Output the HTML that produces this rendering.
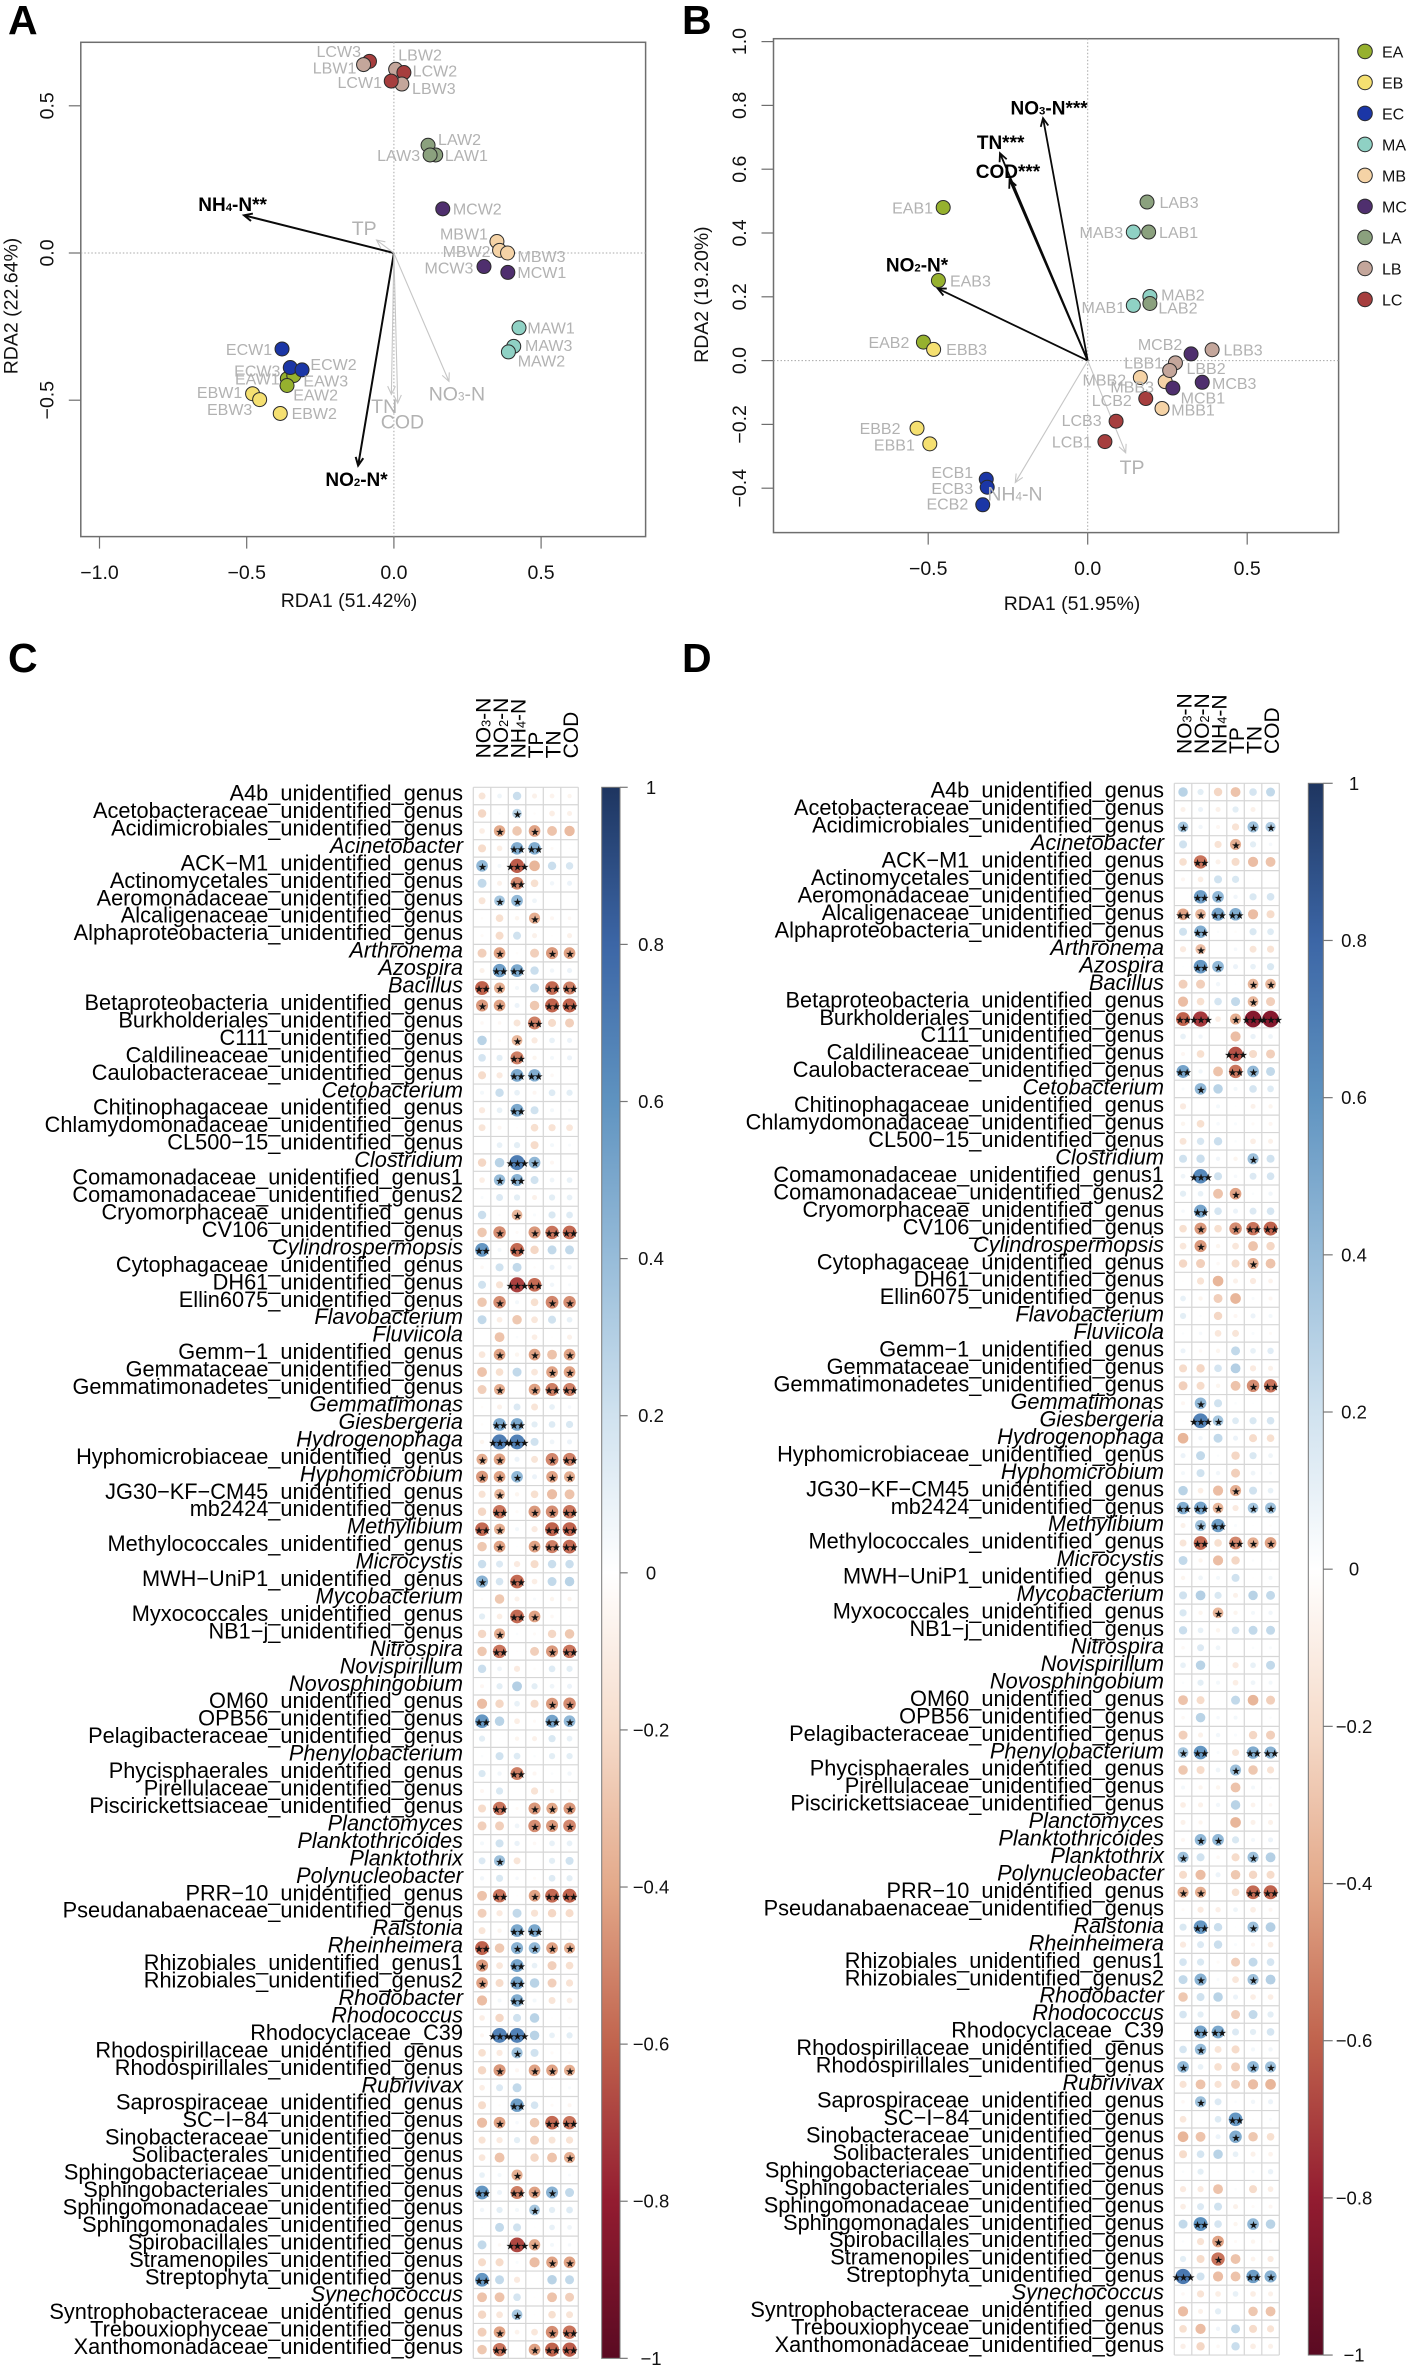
<!DOCTYPE html>
<html lang="en">
<head>
<meta charset="utf-8">
<title>RDA ordination and correlation heatmaps</title>
<style>
html,body{margin:0;padding:0;background:#fff;}
#figure{display:block;font-family:"Liberation Sans",Arial,sans-serif;}
</style>
</head>
<body>
<svg id="figure" xmlns="http://www.w3.org/2000/svg" width="1411" height="2368" viewBox="0 0 1411 2368">
<rect width="1411" height="2368" fill="#fff"/>
<defs>
<linearGradient id="cbar" x1="0" y1="0" x2="0" y2="1"></linearGradient>
</defs>
<text x="8" y="34" font-size="41" font-weight="bold">A</text>
<text x="682" y="34" font-size="41" font-weight="bold">B</text>
<text x="8" y="672" font-size="41" font-weight="bold">C</text>
<text x="682" y="672" font-size="41" font-weight="bold">D</text>
<g id="layer"></g>
</svg>
<script>
/* ---------- Panel A data ---------- */
const sampleNamesA = ["LCW3","LBW1","LBW2","LCW2","LBW3","LCW1","LAW2","LAW1","LAW3","MCW2","MBW1","MBW2","MBW3","MCW3","MCW1","MAW1","MAW3","MAW2","ECW1","EAW1","EAW3","EAW2","ECW3","ECW2","EBW1","EBW3","EBW2"];
const sampleXA = [-.083,-.103,.006,.034,.027,-.009,.116,.142,.123,.166,.350,.359,.386,.306,.387,.425,.407,.389,-.380,-.362,-.34,-.363,-.352,-.312,-.48,-.456,-.386];
const sampleYA = [.651,.640,.624,.613,.574,.584,.366,.333,.333,.150,.039,.009,0,-.046,-.066,-.254,-.317,-.336,-.326,-.427,-.416,-.45,-.389,-.397,-.478,-.498,-.545];
const labelDxA = [-30.7,-29,24.4,31,32,-31.5,31.5,30.7,-31.5,34.5,-33,-33,34,-35,34,32,35,33,-33,-30,32,28.6,-33,31.5,-33,-30,34];
const labelDyA = [-10,3,-14.6,-2,4,1,-6,0,0,0,-8,1,3,1,0,0,-1,9,0,0,5,9,3,-5.5,-1.6,9.5,0];
const arrowNamesA = ["NH4-N**","NO2-N*","TP","TN","COD","NO3-N"];
const arrowXA = [-.509,-.1215,-.059,-.0086,.013,.187];
const arrowYA = [.128,-.722,.044,-.48,-.51,-.436];
const arrowLabelXA = [-.548,-.127,-.101,-.033,.029,.214];
const arrowLabelYA = [.166,-.767,.085,-.52,-.573,-.478];
const xTicksA = [-1,-.5,0,.5];
const yTicksA = [.5,0,-.5];

/* ---------- Panel B data ---------- */
const sampleNamesB = ["EAB1","EAB3","EAB2","EBB3","EBB2","EBB1","ECB1","ECB3","ECB2","LAB3","MAB3","LAB1","MAB2","LAB2","MAB1","MBB2","MBB3","MCB2","LBB3","LBB2","LBB1","MCB3","MCB1","LCB2","MBB1","LCB3","LCB1"];
const sampleXB = [-.453,-.468,-.515,-.483,-.535,-.495,-.318,-.315,-.329,.186,.143,.191,.195,.195,.143,.165,.243,.324,.39,.275,.257,.359,.267,.182,.233,.089,.054];
const sampleYB = [.480,.251,.058,.035,-.212,-.261,-.372,-.397,-.452,.497,.403,.403,.201,.179,.173,-.053,-.066,.021,.034,-.007,-.031,-.068,-.086,-.119,-.150,-.19,-.254];
const labelDxB = [-30.6,32,-34.5,33,-37,-35.4,-34,-35,-35.4,32,-32,30,33,28,-30,-36,-33,-31,31,30.6,-26,32,30,-34,31,-34.5,-33];
const labelDyB = [0,0,0,0,0,1,-7,1,-1,0,0,0,-1.6,4,1.6,2,5,-9.5,0,5.5,-8,1,9.5,1.5,1,-1,0];
const arrowNamesB = ["NO3-N***","TN***","COD***","NO2-N*","TP","NH4-N"];
const arrowXB = [-.14,-.275,-.245,-.47,.119,-.227];
const arrowYB = [.76,.65,.567,.226,-.289,-.382];
const arrowLabelXB = [-.121,-.273,-.25,-.535,.139,-.228];
const arrowLabelYB = [.793,.686,.595,.302,-.333,-.416];
const xTicksB = [-.5,0,.5];
const yTicksB = [1,.8,.6,.4,.2,0,-.2,-.4];

/* ---------- Legend ---------- */
const legendGroups = ["EA","EB","EC","MA","MB","MC","LA","LB","LC"];
const legendColors = ["#96b12e","#f5e071","#1b36a6","#8fd1c4","#f5d3a6","#4f2f6e","#8ba17e","#c4a69b","#a63e3e"];

/* ---------- Heatmap categories ---------- */
const envFactors = ["NO3-N","NO2-N","NH4-N","TP","TN","COD"];
const taxa = ["A4b_unidentified_genus","Acetobacteraceae_unidentified_genus","Acidimicrobiales_unidentified_genus","Acinetobacter","ACK−M1_unidentified_genus","Actinomycetales_unidentified_genus","Aeromonadaceae_unidentified_genus","Alcaligenaceae_unidentified_genus","Alphaproteobacteria_unidentified_genus","Arthronema","Azospira","Bacillus","Betaproteobacteria_unidentified_genus","Burkholderiales_unidentified_genus","C111_unidentified_genus","Caldilineaceae_unidentified_genus","Caulobacteraceae_unidentified_genus","Cetobacterium","Chitinophagaceae_unidentified_genus","Chlamydomonadaceae_unidentified_genus","CL500−15_unidentified_genus","Clostridium","Comamonadaceae_unidentified_genus1","Comamonadaceae_unidentified_genus2","Cryomorphaceae_unidentified_genus","CV106_unidentified_genus","Cylindrospermopsis","Cytophagaceae_unidentified_genus","DH61_unidentified_genus","Ellin6075_unidentified_genus","Flavobacterium","Fluviicola","Gemm−1_unidentified_genus","Gemmataceae_unidentified_genus","Gemmatimonadetes_unidentified_genus","Gemmatimonas","Giesbergeria","Hydrogenophaga","Hyphomicrobiaceae_unidentified_genus","Hyphomicrobium","JG30−KF−CM45_unidentified_genus","mb2424_unidentified_genus","Methylibium","Methylococcales_unidentified_genus","Microcystis","MWH−UniP1_unidentified_genus","Mycobacterium","Myxococcales_unidentified_genus","NB1−j_unidentified_genus","Nitrospira","Novispirillum","Novosphingobium","OM60_unidentified_genus","OPB56_unidentified_genus","Pelagibacteraceae_unidentified_genus","Phenylobacterium","Phycisphaerales_unidentified_genus","Pirellulaceae_unidentified_genus","Piscirickettsiaceae_unidentified_genus","Planctomyces","Planktothricoides","Planktothrix","Polynucleobacter","PRR−10_unidentified_genus","Pseudanabaenaceae_unidentified_genus","Ralstonia","Rheinheimera","Rhizobiales_unidentified_genus1","Rhizobiales_unidentified_genus2","Rhodobacter","Rhodococcus","Rhodocyclaceae_C39","Rhodospirillaceae_unidentified_genus","Rhodospirillales_unidentified_genus","Rubrivivax","Saprospiraceae_unidentified_genus","SC−I−84_unidentified_genus","Sinobacteraceae_unidentified_genus","Solibacterales_unidentified_genus","Sphingobacteriaceae_unidentified_genus","Sphingobacteriales_unidentified_genus","Sphingomonadaceae_unidentified_genus","Sphingomonadales_unidentified_genus","Spirobacillales_unidentified_genus","Stramenopiles_unidentified_genus","Streptophyta_unidentified_genus","Synechococcus","Syntrophobacteraceae_unidentified_genus","Trebouxiophyceae_unidentified_genus","Xanthomonadaceae_unidentified_genus"];
const colorbarTicks = [1,.8,.6,.4,.2,0,-.2,-.4,-.6,-.8,-1];

/* ---------- Heatmap C values ---------- */
const valuesC = [
[-.15,.07,.22,-.08,-.07,-.06],[-.22,.02,.28,-.02,-.1,-.08],[-.1,-.4,-.28,-.42,-.3,-.33],[-.2,-.1,.48,.48,-.03,-.01],[.42,.05,-.62,-.35,.22,.17],
[.25,-.08,-.5,-.18,.06,.08],[-.15,.35,.42,.07,0,0],[-.02,-.18,-.06,-.38,-.05,-.04],[-.03,-.2,.2,-.08,-.01,-.08],[-.25,-.42,-.02,-.25,-.45,-.42],
[-.08,.55,.5,.22,.06,.08],[-.6,-.38,.05,.25,-.58,-.52],[-.45,-.42,.08,-.28,-.6,-.6],[-.04,-.04,-.15,-.52,-.2,-.25],[.28,-.03,-.35,-.12,.1,.08],
[.18,.12,-.52,-.06,.05,.08],[-.2,-.12,.5,.48,-.04,-.01],[.05,.22,.1,-.05,.14,.12],[-.12,.1,.5,.2,.05,.03],[-.15,-.05,-.01,-.18,-.16,-.14],
[0,.1,.12,-.2,.05,.03],[-.22,.28,.7,.42,-.05,0],[-.1,.4,.45,.2,.07,.1],[.03,.15,.12,-.08,.12,.1],[.22,.02,-.35,.03,.16,.14],
[-.28,-.48,-.03,-.45,-.55,-.58],[.58,.05,-.58,-.22,.25,.25],[-.04,.2,.25,-.02,.08,.06],[.2,-.16,-.7,-.58,.06,.03],[-.28,-.48,.05,-.18,-.5,-.48],
[.25,-.1,-.28,-.14,.2,.1],[0,-.3,.02,-.1,-.01,-.08],[-.14,-.42,-.06,-.42,-.3,-.42],[-.3,-.18,.25,-.14,-.42,-.42],[-.25,-.38,0,-.42,-.52,-.52],
[-.02,-.08,.15,-.15,.1,.04],[-.02,.5,.5,.12,.14,.16],[-.06,.7,.68,.2,.07,.08],[-.38,-.42,.08,-.15,-.5,-.52],[-.45,-.42,.42,.08,-.42,-.38],
[-.16,-.35,-.06,-.18,-.32,-.3],[-.22,-.55,-.03,-.45,-.48,-.55],[-.58,-.38,.05,-.12,-.6,-.6],[-.28,-.42,.01,-.42,-.52,-.58],[.22,.15,-.12,-.2,.22,.22],
[.45,.18,-.58,-.1,.25,.28],[-.02,-.28,-.08,.03,-.06,-.06],[.12,-.1,-.58,-.42,-.04,-.01],[-.22,-.38,.02,-.03,-.22,-.28],[-.28,-.55,-.01,-.25,-.45,-.55],
[.22,.07,-.12,-.02,.14,.12],[-.05,.12,.3,.12,.07,.08],[-.32,-.22,.1,-.2,-.45,-.48],[.58,.28,-.1,-.03,.52,.42],[.12,.01,-.06,-.08,.16,.1],
[.02,.2,.14,.02,.12,.12],[.16,.06,-.52,-.05,.02,.06],[-.05,.16,0,-.16,-.06,-.03],[-.2,-.55,-.03,-.45,-.4,-.45],[-.25,-.25,.07,-.48,-.45,-.5],
[.05,.2,.09,-.04,.1,.1],[.15,.38,-.15,0,.12,.2],[.06,.16,.04,-.03,.14,.12],[-.3,-.55,-.01,-.42,-.58,-.6],[-.25,-.12,.25,-.16,-.22,-.2],
[-.15,-.06,.5,.5,-.01,.02],[-.6,-.28,.45,.42,-.42,-.38],[-.45,-.14,.52,.1,-.25,-.18],[-.42,-.2,.52,.28,-.25,-.16],[-.32,.05,.48,.05,-.15,-.1],
[-.1,-.22,.2,.28,-.01,-.02],[-.05,.68,.68,.28,.1,.12],[-.18,-.12,.38,.2,-.03,-.02],[-.22,-.45,-.05,-.42,-.42,-.38],[-.1,.15,.25,0,-.01,.03],
[-.2,-.02,.55,.18,-.03,-.05],[-.32,-.42,.04,-.28,-.58,-.55],[-.16,-.12,.12,-.25,-.15,-.16],[-.14,-.3,0,-.22,-.3,-.38],[.1,.05,-.38,0,0,.03],
[.58,.08,-.52,-.42,.45,.25],[.06,.12,.05,.35,.12,.14],[.01,.25,.2,.01,.1,.07],[.25,-.04,-.68,-.4,.05,.04],[-.2,-.2,.03,-.32,-.42,-.42],
[.58,.25,-.12,0,.28,.25],[-.3,-.3,.18,-.01,-.3,-.25],[-.22,-.14,.35,-.01,-.18,-.15],[-.25,-.42,-.07,-.14,-.48,-.55],[-.28,-.55,0,-.42,-.6,-.62]
];
const starsC = ["000000","001000","010100","002200","103000","002000","011000","000100","000000","010011","022000","210022","110022","000200","001000","002000","002200","000000","002000","000000","000000","003100","012000","000000","001000","010122","202000","000000","003200","010011","000000","000000","010101","000011","010122","000000","022000","033000","110012","111011","010000","020112","210022","010122","000000","102000","000000","002100","010000","020012","000000","000000","000011","200021","000000","000000","002000","000000","020111","000111","000000","010000","000000","020122","000000","002200","201111","102000","102000","002000","000000","033000","001000","010111","000000","002000","010022","000000","000001","001000","202110","000100","000000","003100","000011","200000","000000","001000","010012","020122"];

/* ---------- Heatmap D values ---------- */
const valuesD = [
[.28,.12,-.22,-.3,.18,.25],[-.08,.08,-.08,.12,-.08,.01],[.35,.06,-.05,-.16,.38,.32],[.2,.01,-.16,-.38,.12,.04],[-.18,-.55,-.08,-.2,-.32,-.3],
[-.05,-.1,.2,.16,.01,0],[0,.55,.42,.06,.16,.18],[-.42,-.35,.52,.48,-.32,-.2],[.2,.48,.02,-.02,.16,.14],[-.12,-.32,0,.04,-.15,-.16],
[.01,.58,.42,.08,.1,.16],[-.25,-.25,.06,.01,-.35,-.35],[-.32,-.18,.18,.25,-.35,-.25],[-.6,-.72,-.1,-.38,-.85,-.85],[.1,.06,0,-.32,.09,.07],
[-.05,-.18,0,-.65,-.2,-.25],[.52,.06,-.3,-.55,.42,.25],[.03,.42,.28,.05,.18,.14],[-.12,0,.05,.01,-.08,-.06],[-.06,-.18,.04,.03,-.03,-.05],
[-.15,.17,.22,.02,-.1,-.08],[.2,.22,.06,-.06,.38,.2],[.07,.65,.2,.04,.15,.18],[.12,.1,-.3,-.42,.02,.06],[.04,.52,.18,.08,.15,.18],
[-.18,-.45,-.18,-.48,-.55,-.6],[-.14,-.45,-.06,-.14,-.3,-.22],[-.22,-.25,-.04,-.2,-.38,-.3],[-.01,-.16,-.35,-.08,-.12,-.07],[.1,-.06,-.25,-.35,.03,-.05],
[.12,.02,-.22,-.05,.08,.05],[.02,.04,-.14,-.15,.03,-.03],[.08,-.04,-.06,.25,.1,.13],[-.2,-.22,.18,.3,-.12,-.08],[-.25,-.2,-.06,-.3,-.48,-.55],
[-.05,.42,.2,.02,.01,0],[-.01,.68,.35,.14,.16,.18],[-.35,.06,.25,.08,-.2,-.18],[.08,.25,.02,-.22,.16,.07],[.05,.2,.06,-.25,.07,.03],
[.28,-.1,-.32,-.38,.2,.1],[.48,.52,-.35,-.12,.35,.38],[-.08,.38,.55,.03,.01,-.02],[-.15,-.58,-.18,-.5,-.38,-.42],[.25,-.06,-.32,-.22,.02,.02],
[-.06,.07,.05,.2,-.01,.05],[.2,.3,.16,-.08,.28,.25],[.16,-.06,-.35,-.06,.05,.06],[.22,.1,-.06,.18,.25,.25],[-.04,.15,.07,0,.02,.03],
[.1,.28,.01,-.12,.1,.25],[.02,.12,.05,-.1,.07,.05],[-.3,-.2,-.01,.25,-.35,-.25],[-.04,.28,.04,.05,0,.02],[-.25,-.08,.06,.03,-.22,-.25],
[.35,.58,.03,-.15,.48,.45],[-.28,-.2,.07,.38,-.28,-.16],[.05,-.06,-.06,-.3,.05,.02],[-.1,-.08,.06,.28,-.07,-.04],[-.08,-.06,0,-.35,-.08,-.08],
[-.05,.42,.42,.16,.05,.08],[.38,.2,-.04,-.2,.38,.3],[-.2,-.32,.08,-.28,-.22,-.2],[-.38,-.38,-.01,-.18,-.58,-.6],[-.03,-.12,-.09,.07,-.1,-.05],
[.16,.58,.22,.01,.38,.3],[-.12,.15,.22,.03,-.05,-.1],[.18,.16,-.03,-.25,.25,.18],[.25,.45,.03,-.14,.38,.3],[-.28,.2,.28,.08,-.1,-.1],
[.18,.12,0,-.25,.25,.12],[0,.52,.5,.15,.12,.18],[.18,.4,-.15,-.2,.05,.06],[.42,.1,-.18,-.25,.42,.38],[-.16,-.3,-.16,-.25,-.32,-.35],
[-.04,.38,.15,.02,.06,.08],[-.14,0,.14,.58,.01,.03],[-.35,-.3,.08,.48,-.28,-.18],[-.2,.18,.28,.1,-.08,-.07],[.02,.12,-.01,.01,.03,.09],
[-.12,-.12,-.3,.02,-.2,-.1],[-.1,.15,.2,-.08,-.03,-.05],[.25,.6,.18,-.06,.42,.28],[.02,-.16,-.42,-.03,-.06,-.03],[.12,-.2,-.55,-.3,-.07,-.12],
[.72,.2,-.32,-.3,.55,.45],[-.04,-.16,-.1,.1,-.1,-.08],[-.32,-.08,.12,0,-.28,-.3],[-.18,-.32,.06,.25,-.2,-.16],[-.09,-.22,-.04,.22,-.1,-.08]
];
const starsD = ["000000","000000","100011","000100","020000","000000","021000","212200","020000","010000","021000","000011","000010","230133","000000","000300","200210","010000","000000","000000","000000","000010","030000","000100","020000","010122","010000","000010","000000","000000","000000","000000","000000","000000","000012","010000","031000","000000","000000","000000","000100","221011","012000","020211","000000","000000","000000","001000","000000","000000","000000","000000","000000","000000","000000","120022","000100","000000","000000","000000","011000","100010","000000","110022","000000","020010","000000","000000","010010","000000","000000","022000","010000","100011","000000","010000","000200","000100","000000","000000","000000","000000","020010","001000","001000","300021","000000","000000","000000","000000"];

/* ---------- Helpers ---------- */
const NS = "http://www.w3.org/2000/svg";
const layer = document.getElementById("layer");
function make(parent, tag, attrs, text) {
  const el = document.createElementNS(NS, tag);
  for (const k in attrs) el.setAttribute(k, attrs[k]);
  if (text !== undefined) el.textContent = text;
  parent.appendChild(el);
  return el;
}
function group(name) {
  const g = document.createElementNS(NS, "g");
  
  
  layer.appendChild(g);
  return g;
}
function fmtTick(v, d) {
  const s = Math.abs(v).toFixed(d);
  return (v < 0 ? "\u2212" : "") + s;
}
function richText(el, label, size) {
  const m = label.match(/^([A-Z]+)(\d)(.*)$/);
  if (!m) { el.textContent = label; return; }
  el.appendChild(document.createTextNode(m[1]));
  const t = document.createElementNS(NS, "tspan");
  t.setAttribute("font-size", size * 0.6);
  t.textContent = m[2];
  el.appendChild(t);
  el.appendChild(document.createTextNode(m[3]));
}
const groupColor = {};
legendGroups.forEach((g, i) => { groupColor[g] = legendColors[i]; });

/* ---------- RDA panels ---------- */
function drawRDA(cfg) {
  const g = group(cfg.id + "-rda-plot");
  const sx = v => cfg.x0 + v * cfg.scale;
  const sy = v => cfg.y0 - v * cfg.scale;

  const box = make(g, "rect", {x: cfg.left, y: cfg.top, width: cfg.right - cfg.left, height: cfg.bottom - cfg.top, fill: "none", stroke: "#6e6e6e", "stroke-width": 1.5});
  
  

  const zx = make(g, "line", {x1: cfg.x0, x2: cfg.x0, y1: cfg.top, y2: cfg.bottom, stroke: "#a8a8a8", "stroke-width": 1, "stroke-dasharray": "1.5 2"});
  
  
  const zy = make(g, "line", {x1: cfg.left, x2: cfg.right, y1: cfg.y0, y2: cfg.y0, stroke: "#a8a8a8", "stroke-width": 1, "stroke-dasharray": "1.5 2"});
  
  

  cfg.xTicks.forEach(v => {
    const t = make(g, "line", {x1: sx(v), x2: sx(v), y1: cfg.bottom, y2: cfg.bottom + 12, stroke: "#6e6e6e", "stroke-width": 1.2});
    
    
    const l = make(g, "text", {x: sx(v), y: cfg.xTickY, "text-anchor": "middle", "font-size": 19.5, fill: "#111"}, fmtTick(v, 1));
    
    
  });
  cfg.yTicks.forEach(v => {
    const t = make(g, "line", {x1: cfg.left - 12, x2: cfg.left, y1: sy(v), y2: sy(v), stroke: "#6e6e6e", "stroke-width": 1.2});
    
    
    const l = make(g, "text", {transform: `translate(${cfg.yTickX},${sy(v)}) rotate(-90)`, "text-anchor": "middle", "font-size": 19.5, fill: "#111"}, fmtTick(v, 1));
    
    
  });

  const xt = make(g, "text", {x: cfg.xTitleX, y: cfg.xTitleY, "text-anchor": "middle", "font-size": 19.5, fill: "#111"}, cfg.xTitle);
  
  
  const yt = make(g, "text", {transform: `translate(${cfg.yTitleX},${cfg.yTitleY}) rotate(-90)`, "text-anchor": "middle", "font-size": 19.5, fill: "#111"}, cfg.yTitle);
  
  

  /* arrows */
  cfg.arrowNames.forEach((name, i) => {
    const strong = name.includes("*");
    const col = strong ? "#0a0a0a" : "#c6c6c6";
    const w = strong ? cfg.arrowWidth : 1.1;
    const x2 = sx(cfg.arrowX[i]), y2 = sy(cfg.arrowY[i]);
    const a = Math.atan2(y2 - cfg.y0, x2 - cfg.x0);
    const h = 9;
    const p = [a + 2.7, a - 2.7].map(t => [x2 + h * Math.cos(t), y2 + h * Math.sin(t)]);
    const ar = make(g, "path", {d: `M${cfg.x0} ${cfg.y0}L${x2} ${y2}M${p[0][0]} ${p[0][1]}L${x2} ${y2}L${p[1][0]} ${p[1][1]}`, fill: "none", stroke: col, "stroke-width": w});
    
    
  });

  /* sample points */
  cfg.names.forEach((name, i) => {
    const gr = name.slice(0, 2);
    const px = sx(cfg.xs[i]), py = sy(cfg.ys[i]);
    const c = make(g, "circle", {cx: px, cy: py, r: 7, fill: groupColor[gr], stroke: "#2a2a2a", "stroke-width": 1});
    
    
  });
  cfg.names.forEach((name, i) => {
    const px = sx(cfg.xs[i]), py = sy(cfg.ys[i]);
    const l = make(g, "text", {x: px + cfg.dx[i], y: py + cfg.dy[i] + 5.8, "text-anchor": "middle", "font-size": 16, fill: "#b2b2b2"}, name);
    
    
  });

  /* arrow labels */
  cfg.arrowNames.forEach((name, i) => {
    const strong = name.includes("*");
    const size = strong ? 19 : 19.5;
    const l = make(g, "text", {x: sx(cfg.labelX[i]), y: sy(cfg.labelY[i]) + 7, "text-anchor": "middle", "font-size": size, "font-weight": strong ? "bold" : "normal", fill: strong ? "#000" : "#b2b2b2"});
    richText(l, name, size);
    
    
  });
}

drawRDA({id: "a", left: 80.8, right: 645.6, top: 42.3, bottom: 536.6, x0: 393.9, y0: 253, scale: 294.4,
  xTicks: xTicksA, yTicks: yTicksA, xTickY: 579, yTickX: 53.5, xTitle: "RDA1 (51.42%)", xTitleX: 349, xTitleY: 607,
  yTitle: "RDA2 (22.64%)", yTitleX: 17.6, yTitleY: 306, names: sampleNamesA, xs: sampleXA, ys: sampleYA, dx: labelDxA, dy: labelDyA,
  arrowNames: arrowNamesA, arrowX: arrowXA, arrowY: arrowYA, labelX: arrowLabelXA, labelY: arrowLabelYA, arrowWidth: 2});
drawRDA({id: "b", left: 773.5, right: 1338.6, top: 38.7, bottom: 532.6, x0: 1087.7, y0: 360.6, scale: 319,
  xTicks: xTicksB, yTicks: yTicksB, xTickY: 575, yTickX: 746, xTitle: "RDA1 (51.95%)", xTitleX: 1072, xTitleY: 610,
  yTitle: "RDA2 (19.20%)", yTitleX: 708, yTitleY: 294.6, names: sampleNamesB, xs: sampleXB, ys: sampleYB, dx: labelDxB, dy: labelDyB,
  arrowNames: arrowNamesB, arrowX: arrowXB, arrowY: arrowYB, labelX: arrowLabelXB, labelY: arrowLabelYB, arrowWidth: 1.8});

/* legend */
(function () {
  const g = group("group-legend");
  legendGroups.forEach((name, i) => {
    const y = 51.4 + i * 31;
    const c = make(g, "circle", {cx: 1365, cy: y, r: 7.3, fill: legendColors[i], stroke: "#2a2a2a", "stroke-width": 1});
    
    
    const l = make(g, "text", {x: 1382, y: y + 6, "font-size": 16, fill: "#111"}, name);
    
    
  });
})();

/* ---------- Colour scale ---------- */
const scaleStops = [[1,"#1e3560"],[.8,"#3c66a6"],[.6,"#5f93c0"],[.4,"#97bcd9"],[.2,"#d0e2ef"],[0,"#ffffff"],[-.2,"#f6dccb"],[-.4,"#e3a98a"],[-.6,"#c0634d"],[-.8,"#931c30"],[-1,"#5a0a22"]];
function hex(c) { return [1, 3, 5].map(i => parseInt(c.substr(i, 2), 16)); }
function colorOf(v) {
  v = Math.max(-1, Math.min(1, v));
  for (let i = 0; i < scaleStops.length - 1; i++) {
    const a = scaleStops[i], b = scaleStops[i + 1];
    if (v <= a[0] && v >= b[0]) {
      const t = (a[0] - v) / (a[0] - b[0]);
      const ca = hex(a[1]), cb = hex(b[1]);
      return "rgb(" + ca.map((x, k) => Math.round(x + (cb[k] - x) * t)).join(",") + ")";
    }
  }
  return "#fff";
}
const grad = document.getElementById("cbar");
scaleStops.forEach(s => {
  make(grad, "stop", {offset: ((1 - s[0]) / 2 * 100) + "%", "stop-color": s[1]});
});

/* ---------- Heatmaps ---------- */
function drawHeat(cfg) {
  const g = group(cfg.id + "-correlation-heatmap");
  const cw = cfg.cellW, ch = cfg.cellH;
  const colX = j => cfg.left + j * cw;
  const rowY = i => cfg.top + i * ch;

  for (let j = 0; j <= envFactors.length; j++) {
    const l = make(g, "line", {x1: colX(j), x2: colX(j), y1: cfg.top, y2: rowY(taxa.length), stroke: "#d6d6d6", "stroke-width": 1.2});
    
    
  }
  for (let i = 0; i <= taxa.length; i++) {
    const l = make(g, "line", {x1: cfg.left, x2: colX(6), y1: rowY(i), y2: rowY(i), stroke: "#d6d6d6", "stroke-width": 1.2});
    
    
  }

  envFactors.forEach((name, j) => {
    const cx = colX(j) + cw / 2 + 8.3;
    const l = make(g, "text", {transform: `translate(${cx},${cfg.colLabelY}) rotate(-90)`, "font-size": 21, fill: "#000"});
    richText(l, name, 21);
    
    
  });

  taxa.forEach((name, i) => {
    const italic = !name.includes("_");
    const l = make(g, "text", {x: cfg.labelX, y: rowY(i) + ch / 2 + cfg.labelShift, "text-anchor": "end", "font-size": 21.75, "font-style": italic ? "italic" : "normal", fill: "#000"}, name);
    
    
  });

  cfg.values.forEach((row, i) => {
    row.forEach((v, j) => {
      const cx = colX(j) + cw / 2, cy = rowY(i) + ch / 2;
      const c = make(g, "circle", {cx: cx, cy: cy, r: Math.sqrt(Math.abs(v)) * 9, fill: colorOf(v)});
      
      
      const n = +cfg.stars[i][j];
      if (n > 0) {
        const t = make(g, "text", {x: cx - 0.6, y: cy + 4.6, "text-anchor": "middle", "font-size": 10.4, "letter-spacing": "-2.2", fill: "#111", style: 'font-family:"DejaVu Sans",sans-serif'}, "\u2605".repeat(n));
        
        
      }
    });
  });

  const barTop = cfg.top, barBot = rowY(taxa.length);
  const by = v => barTop + (1 - v) / 2 * (barBot - barTop);
  const bar = make(g, "rect", {x: cfg.barX, y: barTop, width: cfg.barW, height: barBot - barTop, fill: "url(#cbar)", stroke: "#777", "stroke-width": 1});
  
  
  colorbarTicks.forEach(v => {
    const t = make(g, "line", {x1: cfg.barX + cfg.barW, x2: cfg.tickEnd, y1: by(v), y2: by(v), stroke: "#777", "stroke-width": 1.2});
    
    
    const txt = v === 0 ? "0" : (Math.abs(v) === 1 ? fmtTick(v, 0) : fmtTick(v, 1));
    const l = make(g, "text", {x: cfg.barLabelX, y: by(v) + 6.5, "text-anchor": "middle", "font-size": 18.5, fill: "#111"}, txt);
    
    
  });
}

drawHeat({id: "c", left: 473.3, top: 787.3, cellW: 17.5, cellH: 17.456, labelX: 463, labelShift: 4.5, colLabelY: 758.4,
  values: valuesC, stars: starsC, barX: 601.7, barW: 18.3, tickEnd: 627.7, barLabelX: 651});
drawHeat({id: "d", left: 1174.3, top: 783.3, cellW: 17.5, cellH: 17.464, labelX: 1164, labelShift: 5.7, colLabelY: 754,
  values: valuesD, stars: starsD, barX: 1308.3, barW: 15, tickEnd: 1332.7, barLabelX: 1354});
</script>
</body>
</html>
